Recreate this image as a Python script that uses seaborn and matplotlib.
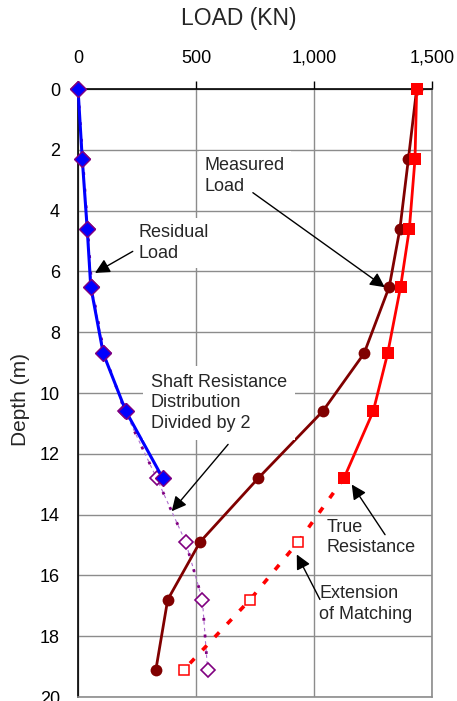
import numpy as np
import pandas as pd
import matplotlib
matplotlib.use('Agg')
import matplotlib.pyplot as plt
import matplotlib.ticker as ticker
import seaborn as sns

sns.set_style('white')
plt.rcParams['font.family'] = ['Liberation Sans', 'DejaVu Sans']

# depths (m) of the gauge levels
DEPTH = [0, 2.3, 4.6, 6.5, 8.7, 10.6, 12.8, 14.9, 16.8, 19.1]

# loads (kN)
RESIDUAL = [0, 18, 39, 54, 107, 203, 359]                         # 0 - 12.8 m
SHAFT_HALF = [0, 20, 41, 58, 111, 199, 333, 456, 527, 549]         # 0 - 19.1 m
MEASURED = [1435, 1400, 1364, 1319, 1212, 1037, 764, 517, 380, 330]
TRUE_RES = [1435, 1428, 1404, 1367, 1312, 1251, 1127]              # 0 - 12.8 m
EXTENSION = [1127, 933, 729, 449]                                  # 12.8 - 19.1 m

X_TICKS = [0, 500, 1000, 1500]
Y_TICKS = list(range(0, 21, 2))

FS_TEXT = 13
GRID_COLOR = '#8c8c8c'

fig = plt.figure(figsize=(4.57, 7.01), dpi=100)
ax = fig.add_axes([0.1707, 0.0057, 0.7746, 0.8673])

common = dict(sort=False, estimator=None, ax=ax, legend=False, clip_on=False)

# shaft resistance / 2 : thin dashed + thick dotted purple, hollow diamonds
sns.lineplot(x=SHAFT_HALF, y=DEPTH, color='#b070d0', lw=0.8,
             linestyle=(0, (3, 3)), zorder=3, **common)
sns.lineplot(x=SHAFT_HALF, y=DEPTH, color='#800080', lw=2.0,
             linestyle=(0, (1, 5)), marker='D', markersize=7.5,
             markerfacecolor='white', markeredgecolor='#800080',
             markeredgewidth=1.2, zorder=4, **common)

# residual load : blue
sns.lineplot(x=RESIDUAL, y=DEPTH[:len(RESIDUAL)], color='#0000ff', lw=2.2,
             marker='D', markersize=8.5, markerfacecolor='#0000ff',
             markeredgecolor='#800080', markeredgewidth=1.0, zorder=5, **common)

# measured load : dark red
sns.lineplot(x=MEASURED, y=DEPTH, color='#800000', lw=2.0,
             marker='o', markersize=8.5, markeredgewidth=0, zorder=5, **common)

# true resistance : red squares
sns.lineplot(x=TRUE_RES, y=DEPTH[:len(TRUE_RES)], color='#ff0000', lw=2.0,
             marker='s', markersize=9, markeredgewidth=0, zorder=6, **common)

# extension of matching : red dotted, hollow squares
sns.lineplot(x=EXTENSION, y=DEPTH[len(TRUE_RES) - 1:], color='#ff0000', lw=2.6,
             linestyle=(0, (1.8, 3.2)), zorder=5, **common)
sns.lineplot(x=EXTENSION[1:], y=DEPTH[len(TRUE_RES):], color='#ff0000', lw=0,
             marker='s', markersize=7.5, markerfacecolor='white',
             markeredgecolor='#ff0000', markeredgewidth=1.1, zorder=6, **common)

# axes
ax.set_xlim(0, 1500)
ax.set_ylim(20, 0)
ax.set_xticks(X_TICKS)
ax.set_yticks(Y_TICKS)
ax.xaxis.set_major_formatter(ticker.FuncFormatter(lambda v, p: f'{v:,.0f}'))
ax.xaxis.tick_top()
ax.xaxis.set_label_position('top')
ax.tick_params(axis='x', direction='out', length=6, width=1, pad=10,
               labelsize=13, colors='black')
ax.tick_params(axis='y', direction='out', length=6, width=1, pad=7,
               labelsize=13, colors='black')
ax.set_xlabel('LOAD (KN)', fontsize=16.5)
ax.xaxis.set_label_coords(0.453, 1.106)
ax.set_ylabel('Depth (m)', fontsize=15)
ax.yaxis.set_label_coords(-0.137, 0.49)

ax.grid(True, color=GRID_COLOR, lw=1)
ax.set_axisbelow(True)
for side in ['top', 'left']:
    ax.spines[side].set_color('black')
    ax.spines[side].set_linewidth(1.2)
for side in ['right', 'bottom']:
    ax.spines[side].set_color(GRID_COLOR)
    ax.spines[side].set_linewidth(1.2)

# annotations
box = dict(boxstyle='square,pad=0.35', fc='white', ec='none')
arrow = dict(arrowstyle='-|>', color='black', lw=1.0, mutation_scale=22,
             shrinkA=0, shrinkB=0)

ax.text(538, 2.25, 'Measured\nLoad', fontsize=FS_TEXT, ha='left', va='top',
        linespacing=1.25, bbox=box, zorder=10)
ax.text(258, 4.45, 'Residual\nLoad', fontsize=FS_TEXT, ha='left', va='top',
        linespacing=1.25, bbox=box, zorder=10)
ax.text(309, 9.38, 'Shaft Resistance\nDistribution\nDivided by 2',
        fontsize=FS_TEXT, ha='left', va='top', linespacing=1.25,
        bbox=dict(boxstyle='square,pad=0.45', fc='white', ec='none'), zorder=10)
ax.text(1055, 14.15, 'True\nResistance', fontsize=FS_TEXT, ha='left', va='top',
        linespacing=1.25, zorder=10)
ax.text(1022, 16.33, 'Extension\nof Matching', fontsize=FS_TEXT, ha='left',
        va='top', linespacing=1.25, zorder=10)

ax.annotate('', xy=(1300, 6.52), xytext=(741, 3.41), arrowprops=arrow, zorder=11)
ax.annotate('', xy=(72, 6.05), xytext=(232, 5.34), arrowprops=arrow, zorder=11)
ax.annotate('', xy=(397, 13.89), xytext=(636, 11.69), arrowprops=arrow, zorder=11)
ax.annotate('', xy=(1160, 13.01), xytext=(1301, 14.66), arrowprops=arrow, zorder=11)
ax.annotate('', xy=(927, 15.31), xytext=(1025, 16.79), arrowprops=arrow, zorder=11)

fig.savefig('out.png', dpi=100)
